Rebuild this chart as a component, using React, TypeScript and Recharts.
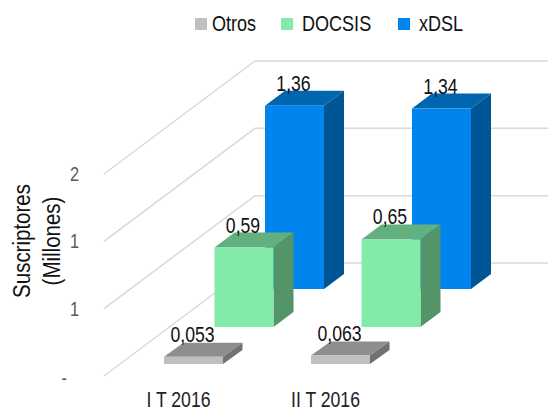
import React from "react";
import { BarChart, Bar, XAxis, YAxis, CartesianGrid, Legend, LabelList, Label } from "recharts";

const categories = ["I T 2016", "II T 2016"];
const otros = [0.053, 0.063];
const docsis = [0.59, 0.65];
const xdsl = [1.36, 1.34];
const yTicks = [0, 0.5, 1, 1.5];
const yTickLabels = ["-", "1", "1", "2"];
const legendOrder = ["Otros", "DOCSIS", "xDSL"];
const rows = categories.map((c, i) => ({ c, Otros: otros[i], DOCSIS: docsis[i], xDSL: xdsl[i] }));

const FONT = "'Liberation Sans',Arial,sans-serif";
const NARROW = 0.82;
const styles: Record<string, any> = {
  Otros: { front: "#BFBFBF", top: "#8E8E8E", side: "#717171", dx: 15, dy: -12, d: 19.5, h: 14 },
  DOCSIS: { front: "#82EBA9", top: "#62AF7F", side: "#539469", dx: 65.5, dy: -49, d: 20, h: 15 },
  xDSL: { front: "#0084EE", top: "#0066B0", side: "#005596", dx: 116, dy: -87, d: 20, h: 15 },
};

const NarrowText = ({ x, y, anchor = "middle", size, fill, children }: any) => (
  <text transform={`translate(${x},${y}) scale(${NARROW},1)`} textAnchor={anchor} fontFamily={FONT} fontSize={size} fill={fill}>
    {children}
  </text>
);

const Bar3D = (name: string) => (p: any) => {
  const s = styles[name];
  const x = p.x + s.dx, y = p.y + s.dy, w = p.width, h = p.height;
  return (
    <g>
      <polygon points={`${x},${y} ${x + s.d},${y - s.h} ${x + w + s.d},${y - s.h} ${x + w},${y}`} fill={s.top} />
      <polygon points={`${x + w},${y} ${x + w + s.d},${y - s.h} ${x + w + s.d},${y + h - s.h} ${x + w},${y + h}`} fill={s.side} />
      <rect x={x} y={y} width={w} height={h} fill={s.front} />
    </g>
  );
};

const valueLabel = (name: string) => (p: any) => {
  const s = styles[name];
  return (
    <NarrowText x={p.x + p.width / 2 + s.dx - 1} y={p.y + s.dy - 15} size={21.5} fill="#111">
      {String(p.value).replace(".", ",")}
    </NarrowText>
  );
};

const gridLine = (p: any) => {
  const x0 = p.x1 - 1;
  return (
    <polyline
      key={p.key ?? p.y1}
      points={`${x0},${p.y1} ${x0 + 151},${p.y1 - 113} 548,${p.y1 - 113}`}
      fill="none"
      stroke="#D9D9D9"
      strokeWidth={1.5}
    />
  );
};

const LegendBox = () => {
  const lefts = [195, 281, 398];
  const textGap = [17, 21, 21];
  return (
    <div style={{ position: "relative", width: 548, height: 0 }}>
      {legendOrder.map((n, i) => (
        <React.Fragment key={n}>
          <span style={{ position: "absolute", left: lefts[i], top: 18, width: 12, height: 12, background: styles[n].front }} />
          <span
            style={{
              position: "absolute",
              left: lefts[i] + textGap[i],
              top: 11,
              fontFamily: FONT,
              fontSize: 22,
              lineHeight: "26px",
              color: "#111",
              transform: `scaleX(${NARROW})`,
              transformOrigin: "left center",
            }}
          >
            {n}
          </span>
        </React.Fragment>
      ))}
    </div>
  );
};

const YTick = (p: any) => {
  const label = yTickLabels[yTicks.indexOf(p.payload.value)];
  const dash = label === "-";
  return (
    <NarrowText x={p.x - (dash ? 28 : 16)} y={p.y + (dash ? 9 : 7)} anchor="end" size={20} fill="#595959">
      {label}
    </NarrowText>
  );
};

const XTick = (p: any) => (
  <NarrowText x={p.x} y={p.y + 21} size={21.5} fill="#222">
    {p.payload.value}
  </NarrowText>
);

const YTitle = () => (
  <g fontFamily={FONT} fontSize={20.5} fill="#111" textAnchor="middle">
    <text transform="translate(30,241) rotate(-90) scale(1,1.15)">Suscriptores</text>
    <text transform="translate(60,241) rotate(-90) scale(1,1.15)">(Millones)</text>
  </g>
);

export default function App() {
  return (
    <div style={{ position: "absolute", left: 0, top: 0, width: 548, height: 412 }}>
      <BarChart
        width={548}
        height={412}
        data={rows}
        margin={{ top: 174, right: 149, bottom: 0, left: 75 }}
        barSize={59}
        barGap={-59}
        barCategoryGap={0}
      >
        <CartesianGrid horizontal={gridLine} vertical={false} />
        <XAxis dataKey="c" axisLine={false} tickLine={false} height={36} tick={<XTick />} interval={0} tickMargin={4} />
        <YAxis width={30} domain={[0, 1.5]} ticks={yTicks} axisLine={false} tickLine={false} tick={<YTick />} tickMargin={4}>
          <Label content={<YTitle />} />
        </YAxis>
        <Legend verticalAlign="top" align="left" content={<LegendBox />} wrapperStyle={{ left: 0, top: 0, width: 548, height: 0 }} />
        <Bar dataKey="xDSL" isAnimationActive={false} fill={styles.xDSL.front} shape={Bar3D("xDSL")}>
          <LabelList dataKey="xDSL" content={valueLabel("xDSL")} />
        </Bar>
        <Bar dataKey="DOCSIS" isAnimationActive={false} fill={styles.DOCSIS.front} shape={Bar3D("DOCSIS")}>
          <LabelList dataKey="DOCSIS" content={valueLabel("DOCSIS")} />
        </Bar>
        <Bar dataKey="Otros" isAnimationActive={false} fill={styles.Otros.front} shape={Bar3D("Otros")}>
          <LabelList dataKey="Otros" content={valueLabel("Otros")} />
        </Bar>
      </BarChart>
    </div>
  );
}
